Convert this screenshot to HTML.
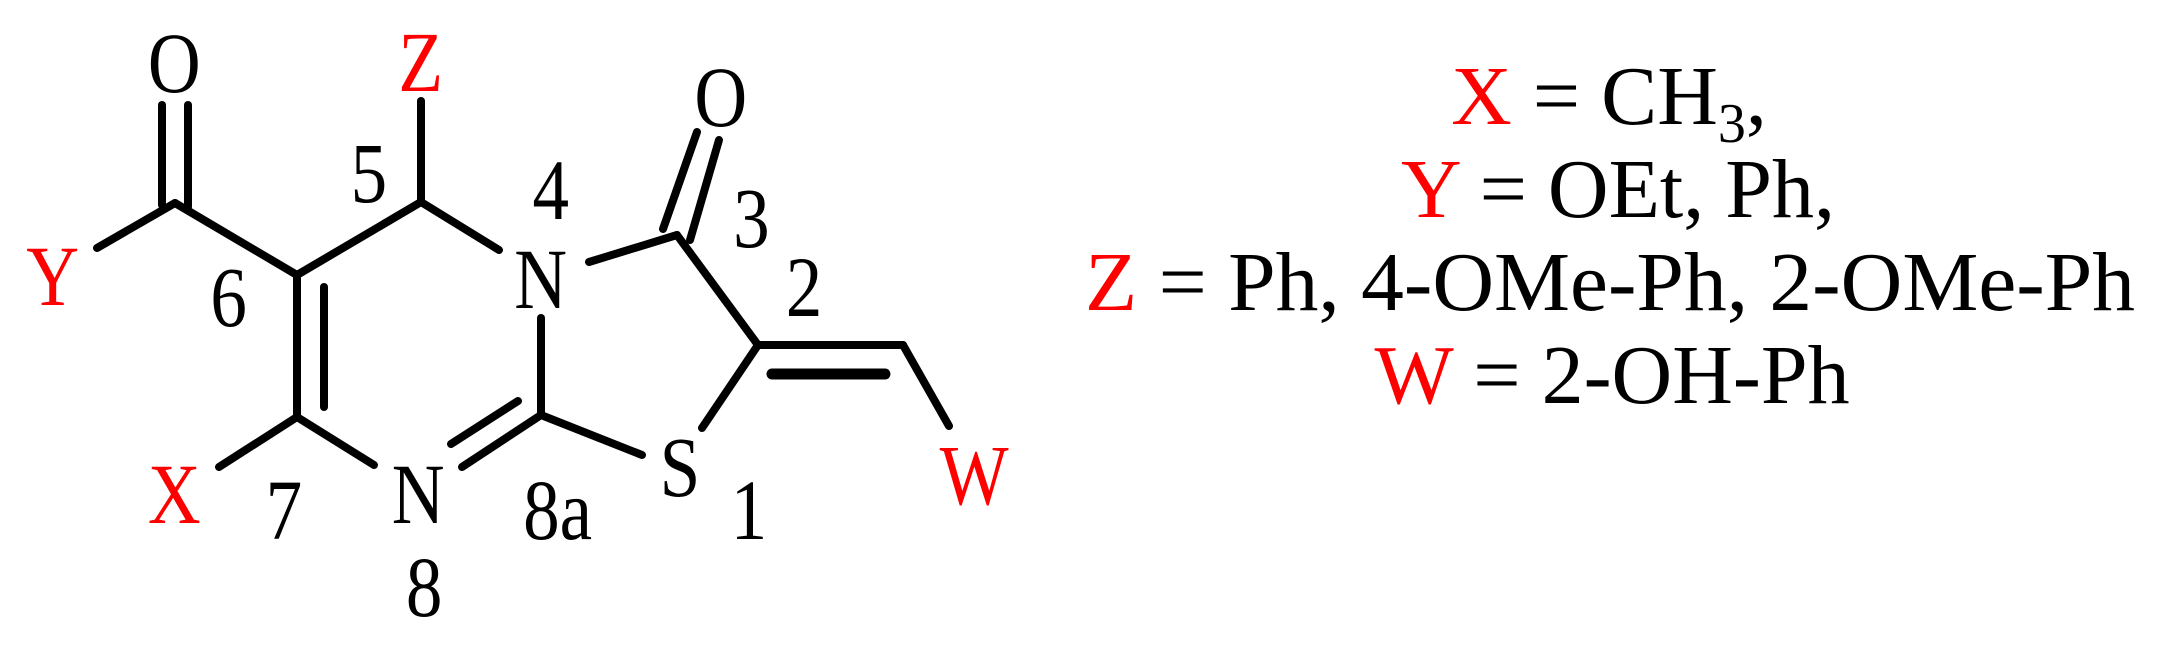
<!DOCTYPE html>
<html><head><meta charset="utf-8"><style>
html,body{margin:0;padding:0;background:#fff;}
svg{display:block;}
text{font-family:"Liberation Serif",serif;}
</style></head><body>
<svg width="2162" height="645" viewBox="0 0 2162 645" xmlns="http://www.w3.org/2000/svg">
<g stroke="#000" stroke-width="8" stroke-linecap="round" fill="none">
<line x1="162" y1="105" x2="162" y2="205"/>
<line x1="188" y1="105" x2="188" y2="207"/>
<line x1="175" y1="203" x2="97" y2="248"/>
<line x1="175" y1="203" x2="297" y2="275"/>
<line x1="297" y1="275" x2="421" y2="202"/>
<line x1="421" y1="101" x2="421" y2="202"/>
<line x1="421" y1="202" x2="499" y2="250"/>
<line x1="589" y1="262" x2="677" y2="235"/>
<line x1="663" y1="229" x2="697" y2="132"/>
<line x1="690" y1="240" x2="719" y2="140"/>
<line x1="677" y1="235" x2="758" y2="345"/>
<line x1="758" y1="345" x2="903" y2="345"/>
<line x1="772" y1="374" x2="885" y2="374" stroke-width="11"/>
<line x1="903" y1="345" x2="949" y2="426"/>
<line x1="758" y1="345" x2="702" y2="428"/>
<line x1="642" y1="455" x2="541" y2="415"/>
<line x1="541" y1="415" x2="541" y2="318"/>
<line x1="541" y1="415" x2="462" y2="467"/>
<line x1="518" y1="401" x2="451" y2="444"/>
<line x1="374" y1="465" x2="297" y2="417"/>
<line x1="297" y1="417" x2="219" y2="467"/>
<line x1="297" y1="275" x2="297" y2="417"/>
<line x1="324" y1="287" x2="324" y2="407"/>
</g>
<g font-size="86" text-anchor="middle" fill="#000" transform="scale(0.85,1)">
<text x="205" y="92">O</text>
<text x="495" y="91" fill="#f00">Z</text>
<text x="62" y="305" fill="#f00">Y</text>
<text x="269" y="326">6</text>
<text x="434" y="202">5</text>
<text x="648" y="219">4</text>
<text x="636" y="308">N</text>
<text x="848" y="126">O</text>
<text x="884" y="247">3</text>
<text x="946" y="316">2</text>
<text x="800" y="496">S</text>
<text x="881" y="539">1</text>
<text x="1146" y="504" fill="#f00">W</text>
<text x="205" y="523" fill="#f00">X</text>
<text x="334" y="539">7</text>
<text x="492" y="523">N</text>
<text x="656" y="539">8a</text>
<text x="499" y="616">8</text>
</g>
<g font-size="84" text-anchor="middle" fill="#000">
<text x="1609" y="124"><tspan fill="#f00">X</tspan> = CH<tspan font-size="56" dy="18">3</tspan><tspan dy="-18">,</tspan></text>
<text x="1618" y="217"><tspan fill="#f00">Y</tspan> = OEt, Ph,</text>
<text x="1610" y="310" textLength="1050" lengthAdjust="spacingAndGlyphs"><tspan fill="#f00">Z</tspan> = Ph, 4-OMe-Ph, 2-OMe-Ph</text>
<text x="1612" y="403"><tspan fill="#f00">W</tspan> = 2-OH-Ph</text>
</g>
</svg>
</body></html>
